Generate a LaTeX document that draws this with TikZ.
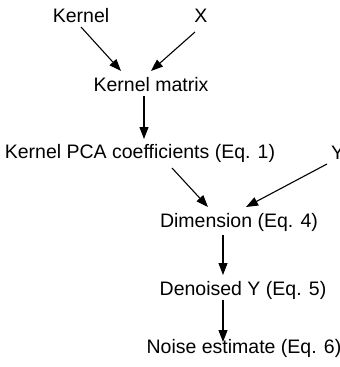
\documentclass[tikz,border=0pt]{standalone}
\usepackage{fontspec}
\setmainfont{Liberation Sans}
\usepackage{tikz}
\usetikzlibrary{arrows.meta,calc}

\tikzset{
  lbl/.style={font=\fontsize{19.5}{22}\selectfont, inner sep=2pt},
  arr/.style={-{Triangle[length=12pt,width=9pt]}, line width=1.1pt}
}

\begin{document}
\begin{tikzpicture}[x=1pt, y=-1pt, >=Stealth, line join=round]
  \useasboundingbox (0,0) rectangle (340,367);
  % inputs
  \node[lbl] (kernel) at (81,16) {Kernel};
  \node[lbl] (xin) at (201,16) {X};
  \node[lbl] (kmat) at (151,85) {Kernel matrix};
  \node[lbl] (kpca) at (140,153) {Kernel PCA coefficients (Eq. 1)};
  \node[lbl, anchor=west] (yin) at (329,153) {Y};
  \node[lbl] (dim) at (239,222) {Dimension (Eq. 4)};
  \node[lbl] (deno) at (243,290) {Denoised Y (Eq. 5)};
  \node[lbl] (noise) at (244,348) {Noise estimate (Eq. 6)};
  % connectors
  \draw[arr] ($(kernel.center)+(0,11)$) -- ($(kmat.center)+(-30,-14)$);
  \draw[arr] ($(xin.center)+(-6,16)$) -- ($(kmat.center)+(0,-14)$);
  \draw[arr] ($(kmat.center)+(-7,11)$) -- ($(kpca.center)+(4,-14)$);
  \draw[arr] ($(kpca.center)+(32,15)$) -- ($(dim.center)+(-31,-15)$);
  \draw[arr] ($(yin.west)+(-2,11)$) -- ($(dim.center)+(7,-15)$);
  \draw[arr] ($(dim.center)+(-16,13)$) -- ($(deno.center)+(-20,-15)$);
  \draw[arr] ($(deno.center)+(-20,10)$) -- ($(noise.center)+(-21,-6)$);
\end{tikzpicture}
\end{document}
